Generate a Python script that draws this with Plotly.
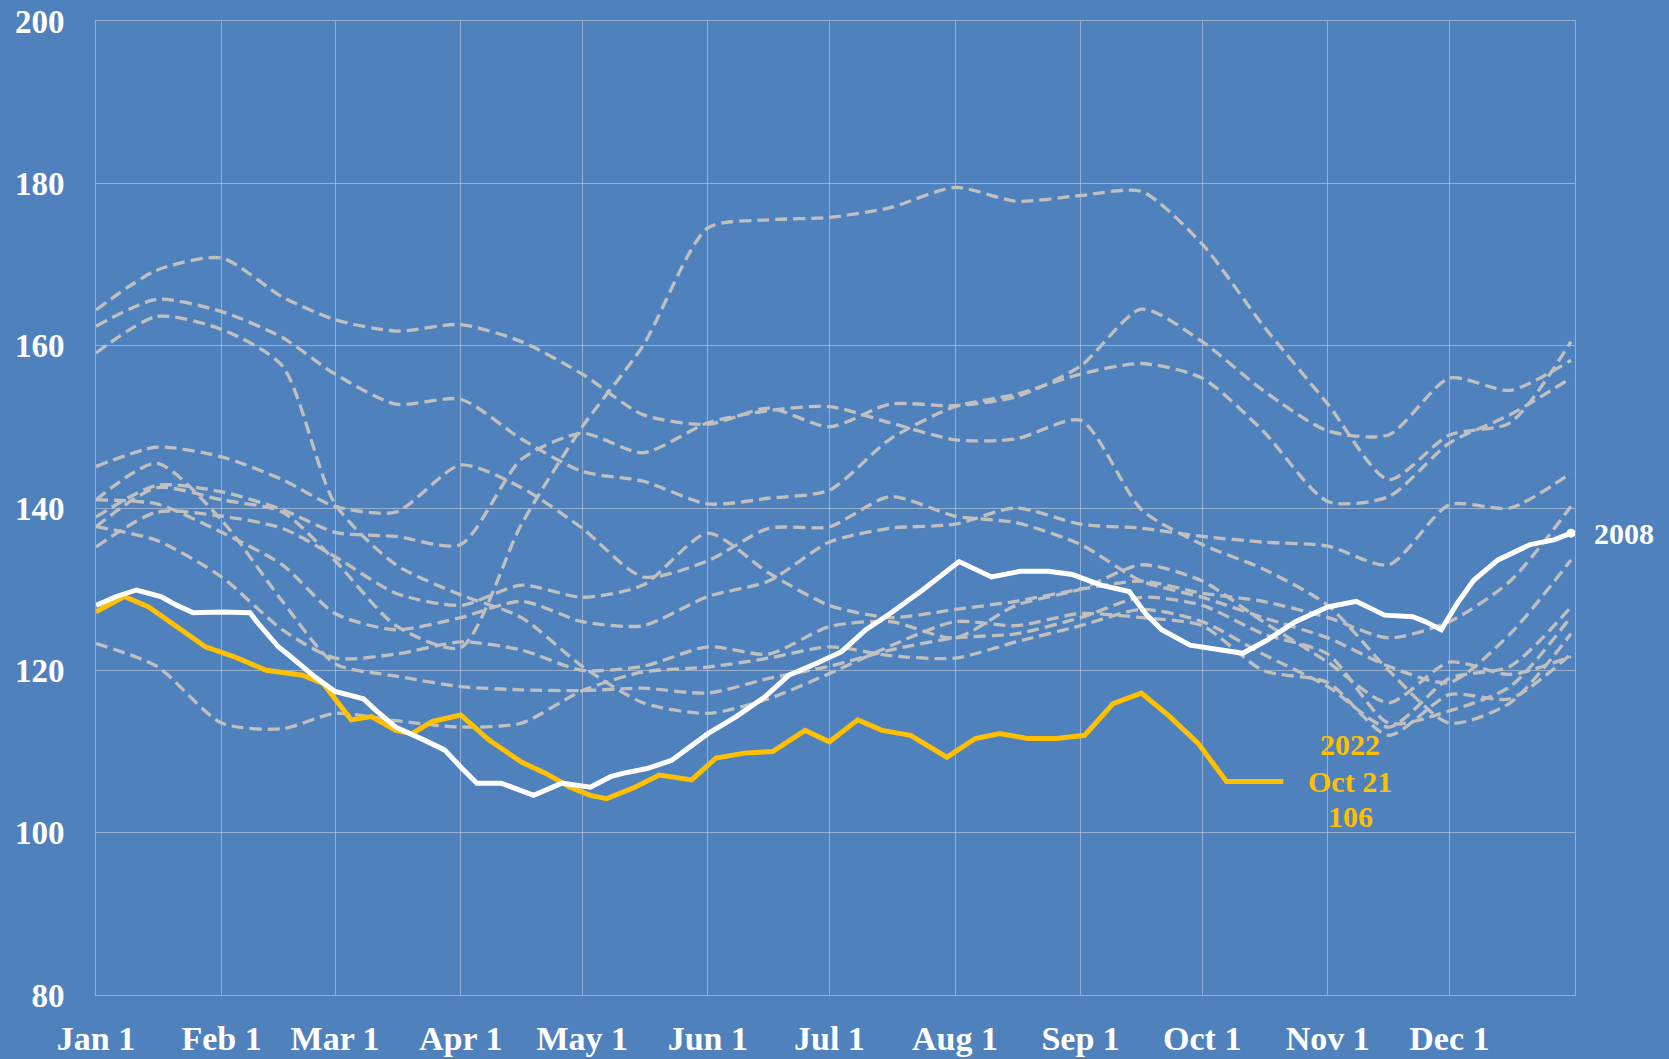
import plotly.graph_objects as go

# semi-monthly grid used by the grey (other years) lines
grid_dates = ["01-01", "01-16", "02-01", "02-16", "03-01", "03-16", "04-01", "04-16",
              "05-01", "05-16", "06-01", "06-16", "07-01", "07-16", "08-01", "08-16",
              "09-01", "09-16", "10-01", "10-16", "11-01", "11-16", "12-01", "12-16", "12-31"]

yr_a = [137.7, 142.5, 141.0, 139.5, 133.5, 125.5, 122.8, 138.0, 150.0, 160.0, 174.5, 175.5, 175.8,
        177.0, 179.5, 177.8, 178.5, 179.0, 172.5, 162.5, 152.8, 143.5, 149.0, 150.5, 160.5]
yr_b = [164.4, 169.3, 170.8, 166.0, 163.2, 161.8, 162.6, 160.5, 156.5, 151.5, 150.3, 152.3, 150.0,
        152.8, 152.6, 153.7, 157.5, 164.5, 160.5, 154.5, 149.5, 149.0, 156.0, 154.5, 158.2]
yr_c = [162.4, 165.7, 164.2, 161.0, 156.5, 152.8, 153.4, 148.5, 144.5, 143.3, 140.5, 141.2, 142.2,
        148.5, 152.5, 154.0, 156.5, 157.8, 156.0, 149.5, 140.8, 141.4, 148.0, 151.5, 156.0]
yr_d = [159.1, 163.6, 162.0, 157.5, 140.5, 133.0, 129.3, 126.5, 120.5, 116.0, 114.7, 116.5, 119.6,
        123.0, 126.0, 125.5, 127.0, 126.5, 125.5, 120.0, 118.5, 112.0, 117.0, 116.5, 122.0]
yr_e = [145.1, 147.5, 146.3, 143.5, 140.2, 139.5, 145.3, 142.5, 137.5, 131.5, 133.5, 137.5, 137.7,
        141.4, 139.0, 138.2, 135.5, 131.0, 129.0, 126.5, 124.0, 120.5, 118.5, 124.5, 133.6]
yr_f = [141.0, 145.5, 138.5, 128.5, 120.8, 119.3, 118.0, 117.6, 117.5, 117.8, 117.2, 119.0, 120.5,
        122.5, 124.0, 124.5, 126.5, 129.0, 128.0, 124.5, 122.0, 113.5, 115.0, 118.0, 126.6]
yr_g = [123.3, 120.5, 113.5, 112.8, 114.7, 113.8, 113.0, 113.5, 117.5, 119.8, 120.4, 121.5, 122.9,
        121.8, 121.5, 123.5, 125.5, 127.5, 126.0, 122.0, 118.0, 113.0, 119.0, 120.5, 127.8]
yr_h = [138.9, 142.8, 142.0, 139.8, 137.0, 136.5, 135.5, 146.0, 149.2, 146.8, 150.5, 152.0, 152.5,
        150.5, 148.4, 148.5, 150.8, 139.8, 135.5, 132.5, 128.0, 120.0, 113.5, 116.0, 124.5]
yr_i = [135.2, 139.5, 139.0, 137.5, 134.0, 129.5, 128.0, 130.5, 129.0, 130.5, 136.9, 132.0, 128.0,
        126.5, 127.5, 128.5, 130.0, 131.0, 129.5, 128.5, 126.5, 124.0, 126.0, 131.0, 140.2]
yr_j = [141.0, 140.5, 137.0, 133.0, 127.0, 125.0, 126.5, 128.5, 126.0, 125.5, 129.1, 131.0, 135.8,
        137.5, 138.0, 140.0, 138.0, 137.5, 136.5, 135.8, 135.3, 133.0, 140.4, 140.0, 144.3]
yr_k = [137.7, 136.0, 131.5, 125.0, 121.5, 122.0, 123.5, 122.5, 120.0, 120.5, 122.9, 122.0, 125.4,
        126.0, 124.0, 128.0, 130.0, 133.0, 131.0, 126.0, 121.0, 116.0, 121.0, 119.5, 121.7]
other_years = [yr_a, yr_b, yr_c, yr_d, yr_e, yr_f, yr_g, yr_h, yr_i, yr_j, yr_k]

dates_2008 = ["01-01", "01-06", "01-11", "01-17", "01-21", "01-25", "02-01", "02-08", "02-10", "02-15",
              "02-18", "02-24", "03-01", "03-08", "03-11", "03-16", "03-23", "03-28", "04-01", "04-05",
              "04-11", "04-19", "04-26", "05-03", "05-08", "05-11", "05-17", "05-23", "06-01", "06-08",
              "06-15", "06-21", "06-28", "07-04", "07-10", "07-16", "07-24", "08-02", "08-10", "08-17",
              "08-24", "08-30", "09-06", "09-13", "09-17", "09-21", "09-28", "10-05", "10-11", "10-17",
              "10-24", "11-01", "11-08", "11-15", "11-22", "11-25", "11-29", "12-03", "12-07", "12-13",
              "12-21", "12-27", "12-31"]
vals_2008 = [128.0, 129.1, 129.9, 129.1, 128.0, 127.1, 127.2, 127.1, 125.8, 122.9,
             121.7, 119.2, 117.4, 116.5, 115.1, 113.0, 111.4, 110.2, 108.1, 106.1,
             106.1, 104.6, 106.1, 105.6, 106.9, 107.3, 107.9, 108.9, 112.2, 114.3,
             116.7, 119.4, 120.9, 122.3, 125.0, 127.0, 129.9, 133.4, 131.5, 132.2,
             132.2, 131.8, 130.5, 129.7, 127.0, 125.0, 123.1, 122.5, 122.1, 123.7,
             126.0, 127.8, 128.5, 126.8, 126.6, 126.0, 125.0, 128.3, 131.1, 133.6,
             135.5, 136.1, 136.9]

dates_2022 = ["01-01", "01-08", "01-14", "01-21", "01-28", "02-04", "02-12", "02-21", "02-26", "03-05",
              "03-10", "03-16", "03-20", "03-25", "04-01", "04-08", "04-16", "04-22", "04-28", "05-03",
              "05-07", "05-14", "05-20", "05-28", "06-03", "06-10", "06-17", "06-25", "07-01", "07-08",
              "07-14", "07-21", "07-30", "08-06", "08-12", "08-19", "08-26", "09-02", "09-09", "09-16",
              "09-23", "09-30", "10-07", "10-14", "10-21"]
vals_2022 = [127.2, 129.1, 127.8, 125.4, 122.9, 121.7, 120.0, 119.4, 118.4, 113.9,
             114.3, 112.6, 112.2, 113.7, 114.5, 111.4, 108.7, 107.3, 105.6, 104.6,
             104.2, 105.6, 107.1, 106.5, 109.2, 109.8, 110.0, 112.6, 111.2, 113.9,
             112.6, 112.0, 109.3, 111.6, 112.2, 111.6, 111.6, 112.0, 115.9, 117.2,
             114.3, 111.0, 106.3, 106.3, 106.3]

month_ticks = ["01-01", "02-01", "03-01", "04-01", "05-01", "06-01",
               "07-01", "08-01", "09-01", "10-01", "11-01", "12-01"]
month_labels = ["Jan 1", "Feb 1", "Mar 1", "Apr 1", "May 1", "Jun 1",
                "Jul 1", "Aug 1", "Sep 1", "Oct 1", "Nov 1", "Dec 1"]

label_2008 = "2008"
label_2022_lines = ["2022", "Oct 21", "106"]
label_2022_at = "11-05"

BASE = "2021-"  # common non-leap year so every series shares one calendar axis
BG = "#4F81BD"
GRID = "rgba(210,215,225,0.55)"
GREY = "#C0C0C0"
GOLD = "#FFC000"
FONT = "Liberation Serif"


def on_axis(days):
    return [BASE + d for d in days]


fig = go.Figure()
for vals in other_years:
    fig.add_trace(go.Scatter(
        x=on_axis(grid_dates), y=vals, mode="lines", showlegend=False, hoverinfo="skip",
        line=dict(color=GREY, width=3.3, dash="12px,6px", shape="spline", smoothing=0.7),
    ))

fig.add_trace(go.Scatter(
    x=on_axis(dates_2022), y=vals_2022, mode="lines", showlegend=False,
    line=dict(color=GOLD, width=5),
))
fig.add_trace(go.Scatter(
    x=on_axis(dates_2008), y=vals_2008, mode="lines", showlegend=False,
    line=dict(color="white", width=5),
))
fig.add_trace(go.Scatter(
    x=on_axis(dates_2008[-1:]), y=vals_2008[-1:], mode="markers", showlegend=False,
    marker=dict(color="white", size=9),
))

fig.add_annotation(
    x=on_axis(dates_2008[-1:])[0], y=vals_2008[-1], text=label_2008, showarrow=False,
    xanchor="left", xshift=21, font=dict(family=FONT, size=30, color="white", weight="bold"),
)
# the three label lines sit a little tighter than plotly's default line spacing
for line_text, shift in zip(label_2022_lines, (37, 0, -35)):
    fig.add_annotation(
        x=BASE + label_2022_at, y=vals_2022[-1], text=line_text, showarrow=False,
        xanchor="center", yanchor="middle", xshift=6, yshift=shift,
        font=dict(family=FONT, size=30, color=GOLD, weight="bold"),
    )

fig.update_layout(
    width=1669, height=1059, margin=dict(l=96, r=94, t=21, b=64),
    paper_bgcolor=BG, plot_bgcolor=BG, hovermode=False,
    font=dict(family=FONT, size=33, color="white", weight="bold"),
)
fig.update_xaxes(
    range=[BASE + "01-01", "2022-01-01"], tickvals=on_axis(month_ticks), ticktext=month_labels,
    tickfont=dict(size=34), automargin=False, ticklabeloverflow="allow",
    showgrid=True, gridcolor=GRID, gridwidth=1, showline=True, mirror=True, linecolor=GRID,
    linewidth=1, ticks="", ticklabelstandoff=13, zeroline=False,
)
fig.update_yaxes(
    range=[80, 200], dtick=20, automargin=False, ticklabeloverflow="allow",
    showgrid=True, gridcolor=GRID, gridwidth=1,
    showline=True, mirror=True, linecolor=GRID, linewidth=1, ticks="",
    ticklabelstandoff=24, zeroline=False,
)

# drop the default 8px page margin so the figure fills the window
fig.write_html(
    "out.html",
    config={"displayModeBar": False},
    post_script="document.body.style.margin='0';document.body.style.background='%s';" % BG,
)
